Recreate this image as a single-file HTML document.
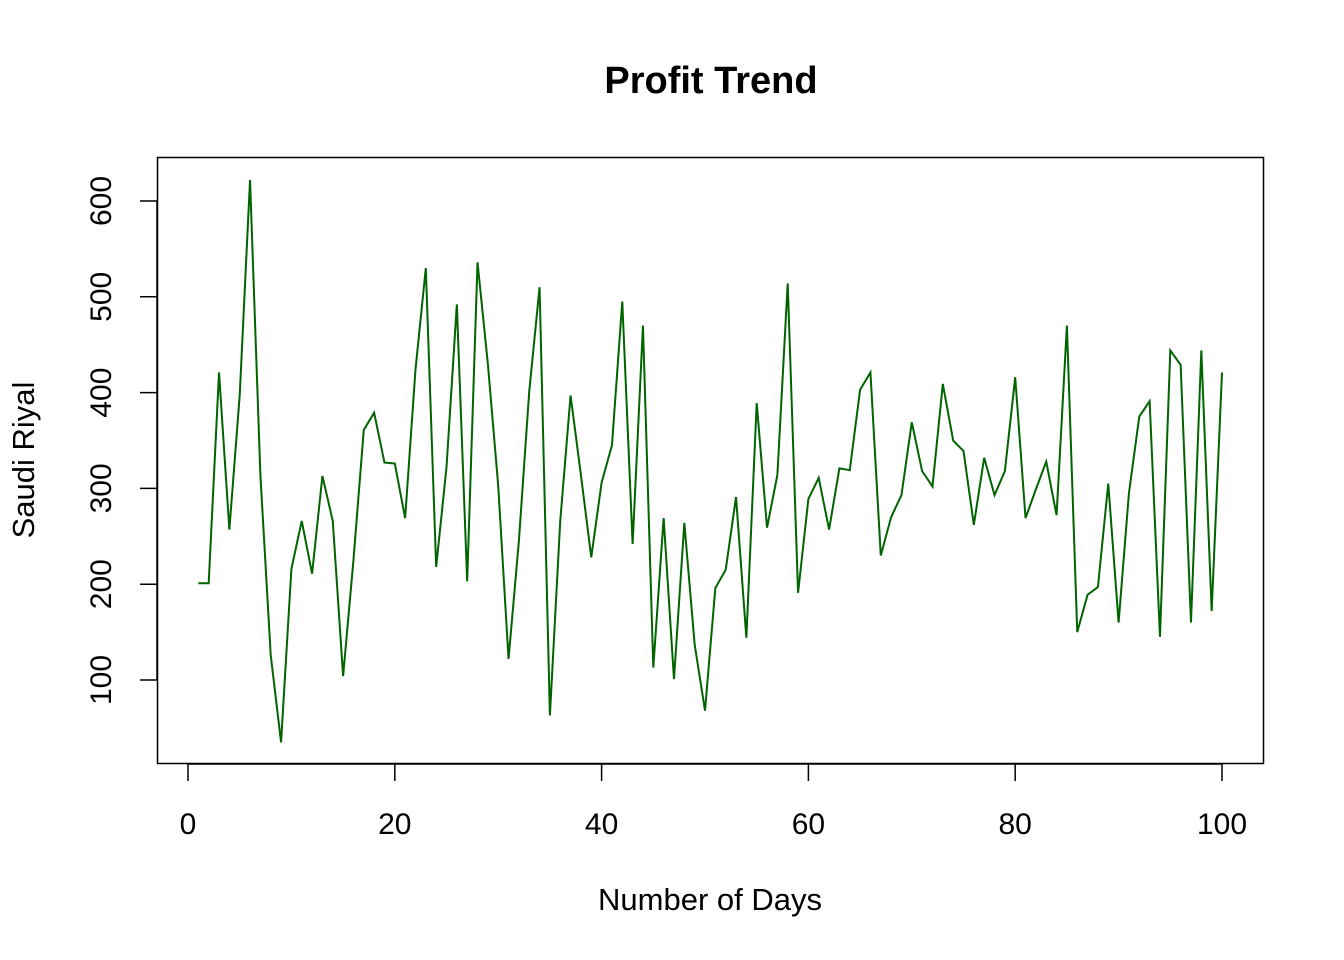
<!DOCTYPE html>
<html><head><meta charset="utf-8"><style>
html,body{margin:0;padding:0;background:#fff;}
svg{display:block;font-family:"Liberation Sans",Arial,sans-serif;}
</style></head><body>
<svg id="chart" width="1344" height="960">
<text x="711" y="93" font-size="38" font-weight="bold" text-anchor="middle">Profit Trend</text>
<rect x="157.5" y="157.5" width="1106" height="606" fill="none" stroke="#000" stroke-width="1.5"/>
<text x="710" y="910" font-size="31" text-anchor="middle">Number of Days</text>
<text transform="translate(34,460) rotate(-90)" font-size="31" text-anchor="middle">Saudi Riyal</text>
<g id="xaxis"></g>
<g id="yaxis"></g>
<polyline id="series" fill="none" stroke="#006400" stroke-width="2" stroke-linejoin="miter"/>
</svg>
<script>
const xTicks = [0, 20, 40, 60, 80, 100];
const yTicks = [100, 200, 300, 400, 500, 600];
const profit = [201,201,421,257,397,622,314,126,35,216,266,211,313,266,104,225,361,379,327,326,
269,424,530,218,322,492,203,536,430,303,122,245,401,510,63,266,397,314,228,306,
345,495,242,470,113,269,101,264,137,68,196,215,291,144,389,259,314,514,191,289,
311,257,321,319,403,421,230,270,293,369,318,302,409,350,339,262,332,293,318,416,
269,299,328,272,470,150,189,197,305,160,295,375,391,145,444,429,160,444,172,421];
const NS='http://www.w3.org/2000/svg';
function xs(v){return 188 + (v-0)*(1222-188)/100;}
function ys(v){return 680 - (v-100)*(680-201)/500;}
const xa=document.getElementById('xaxis');
const ya=document.getElementById('yaxis');
function ln(p,x1,y1,x2,y2){const l=document.createElementNS(NS,'line');l.setAttribute('x1',x1);l.setAttribute('y1',y1);l.setAttribute('x2',x2);l.setAttribute('y2',y2);l.setAttribute('stroke','#000');l.setAttribute('stroke-width','1.5');p.appendChild(l);return l;}
const xl=ln(xa,xs(xTicks[0]),764,xs(xTicks[xTicks.length-1]),764);


xTicks.forEach(t=>{
  const tk=ln(xa,xs(t),764,xs(t),781);
  
  
  const tx=document.createElementNS(NS,'text');
  tx.setAttribute('x',xs(t));tx.setAttribute('y',834);tx.setAttribute('font-size','30');tx.setAttribute('text-anchor','middle');
  tx.textContent=t;
  
  
  xa.appendChild(tx);
});
const yl=ln(ya,157,ys(yTicks[0]),157,ys(yTicks[yTicks.length-1]));


yTicks.forEach(t=>{
  const tk=ln(ya,140,ys(t),157,ys(t));
  
  
  const tx=document.createElementNS(NS,'text');
  tx.setAttribute('transform','translate(111,'+ys(t)+') rotate(-90)');
  tx.setAttribute('font-size','30');tx.setAttribute('text-anchor','middle');
  tx.textContent=t;
  
  
  ya.appendChild(tx);
});
document.getElementById('series').setAttribute('points',profit.map((v,i)=>xs(i+1)+','+ys(v)).join(' '));
</script>
</body></html>
